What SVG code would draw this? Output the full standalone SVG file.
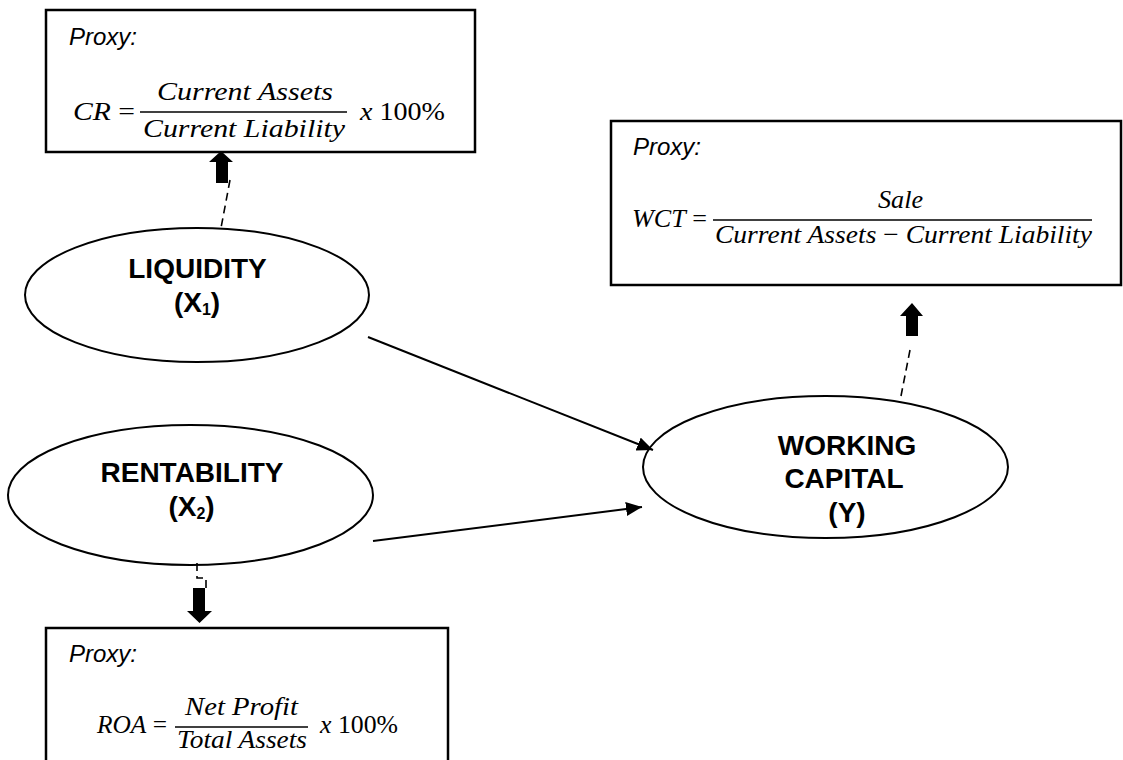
<svg xmlns="http://www.w3.org/2000/svg" width="1123" height="760" viewBox="0 0 1123 760">
  <defs>
    <style>
      .box { fill: #fff; stroke: #000; stroke-width: 2.5; }
      .ell { fill: #fff; stroke: #000; stroke-width: 2; }
      .proxy { font-family: "Liberation Sans", Arial, sans-serif; font-style: italic; font-size: 24px; fill: #000; }
      .math { font-family: "Liberation Serif", "Times New Roman", serif; font-size: 26px; fill: #000; }
      .it { font-style: italic; }
      .bar { stroke: #000; stroke-width: 1.5; }
      .lbl { font-family: "Liberation Sans", Arial, sans-serif; font-weight: bold; font-size: 28px; fill: #000; text-anchor: middle; }
      .conn { stroke: #000; stroke-width: 2; fill: none; }
      .dash { stroke: #000; stroke-width: 1.6; fill: none; stroke-dasharray: 8 5; }
      .block { fill: #000; stroke: none; }
    </style>
    <marker id="ah" viewBox="0 0 16 14" refX="16" refY="7" markerWidth="16" markerHeight="14" markerUnits="userSpaceOnUse" orient="auto">
      <path d="M0,0 L16,7 L0,14 z" fill="#000"/>
    </marker>
  </defs>
  <rect width="1123" height="760" fill="#fff"/>

  <g id="proxy-cr">
    <rect class="box" x="46" y="10" width="429" height="142"/>
    <text class="proxy" x="69" y="45">Proxy:</text>
    <text class="math" x="73" y="120" textLength="62" lengthAdjust="spacingAndGlyphs"><tspan class="it">CR</tspan> =</text>
    <text class="math it" x="157" y="100" textLength="176" lengthAdjust="spacingAndGlyphs">Current Assets</text>
    <line class="bar" x1="140" y1="112" x2="347" y2="112"/>
    <text class="math it" x="143" y="137" textLength="202" lengthAdjust="spacingAndGlyphs">Current Liability</text>
    <text class="math" x="360" y="120" textLength="85" lengthAdjust="spacingAndGlyphs"><tspan class="it">x</tspan> 100%</text>
  </g>

  <g id="proxy-wct">
    <rect class="box" x="611" y="121" width="510" height="164"/>
    <text class="proxy" x="633" y="155">Proxy:</text>
    <text class="math" x="632" y="227" textLength="75" lengthAdjust="spacingAndGlyphs"><tspan class="it">WCT</tspan> =</text>
    <text class="math it" x="878" y="208" textLength="45" lengthAdjust="spacingAndGlyphs">Sale</text>
    <line class="bar" x1="713" y1="220" x2="1092" y2="220"/>
    <text class="math" x="715" y="243" textLength="377" lengthAdjust="spacingAndGlyphs"><tspan class="it">Current Assets</tspan> − <tspan class="it">Current Liability</tspan></text>
  </g>

  <g id="proxy-roa">
    <rect class="box" x="46" y="628" width="402" height="140"/>
    <text class="proxy" x="69" y="662">Proxy:</text>
    <text class="math" x="97" y="733" textLength="70" lengthAdjust="spacingAndGlyphs"><tspan class="it">ROA</tspan> =</text>
    <text class="math it" x="185" y="715" textLength="113" lengthAdjust="spacingAndGlyphs">Net Profit</text>
    <line class="bar" x1="175" y1="727" x2="308" y2="727"/>
    <text class="math it" x="177" y="748" textLength="130" lengthAdjust="spacingAndGlyphs">Total Assets</text>
    <text class="math" x="320" y="733" textLength="78" lengthAdjust="spacingAndGlyphs"><tspan class="it">x</tspan> 100%</text>
  </g>

  <g id="liquidity">
    <ellipse class="ell" cx="197" cy="295" rx="172" ry="67"/>
    <text class="lbl" x="197.5" y="278">LIQUIDITY</text>
    <text class="lbl" x="197" y="312">(X<tspan font-size="16" dy="3">1</tspan><tspan dy="-3">)</tspan></text>
  </g>

  <g id="rentability">
    <ellipse class="ell" cx="190.5" cy="495" rx="182.5" ry="70"/>
    <text class="lbl" x="192" y="482">RENTABILITY</text>
    <text class="lbl" x="191.5" y="516">(X<tspan font-size="16" dy="3">2</tspan><tspan dy="-3">)</tspan></text>
  </g>

  <g id="working-capital">
    <ellipse class="ell" cx="825.5" cy="467" rx="182.5" ry="71"/>
    <text class="lbl" x="847" y="455">WORKING</text>
    <text class="lbl" x="844" y="488">CAPITAL</text>
    <text class="lbl" x="847" y="522">(Y)</text>
  </g>

  <g id="connectors">
    <line class="conn" x1="368" y1="337" x2="653" y2="450" marker-end="url(#ah)"/>
    <line class="conn" x1="373" y1="541" x2="642" y2="507" marker-end="url(#ah)"/>
    <line class="dash" x1="230" y1="180" x2="221" y2="228"/>
    <polygon class="block" points="221,151 233,162 228,162 228,183 216,183 216,162 209,162"/>
    <path class="dash" d="M197,563 V578 H206 V590"/>
    <polygon class="block" points="193,588 205,588 205,611 212,611 199.5,623 187,611 193,611"/>
    <line class="dash" x1="910" y1="350" x2="901" y2="396"/>
    <polygon class="block" points="912,303 923,316 918,316 918,336 906,336 906,316 900,316"/>
  </g>
</svg>
